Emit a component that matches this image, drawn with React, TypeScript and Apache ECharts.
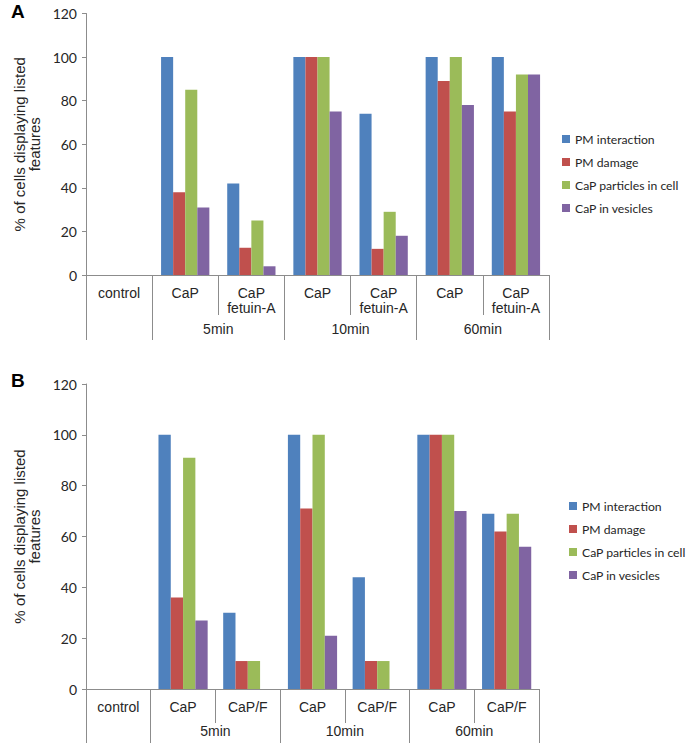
import React, { useEffect, useRef } from "react";
import * as echarts from "echarts";

const seriesNames = ["PM interaction", "PM damage", "CaP particles in cell", "CaP in vesicles"];
const seriesColors = ["#4F81BD", "#C0504D", "#9BBB59", "#8064A2"];

const categoriesA = ["control", "CaP", "CaP\nfetuin-A", "CaP", "CaP\nfetuin-A", "CaP", "CaP\nfetuin-A"];
const categoriesB = ["control", "CaP", "CaP/F", "CaP", "CaP/F", "CaP", "CaP/F"];
const groupLabels = ["5min", "10min", "60min"];
const groupLabelPositions = [2, 4, 6];
const groupBoundaries = [0, 1, 3, 5, 7];
const yTicks = [0, 20, 40, 60, 80, 100, 120];

const A_pmInteraction = [0, 100, 42, 100, 74, 100, 100];
const A_pmDamage = [0, 38, 12.5, 100, 12, 89, 75];
const A_capParticles = [0, 85, 25, 100, 29, 100, 92];
const A_capVesicles = [0, 31, 4, 75, 18, 78, 92];

const B_pmInteraction = [0, 100, 30, 100, 44, 100, 69];
const B_pmDamage = [0, 36, 11, 71, 11, 100, 62];
const B_capParticles = [0, 91, 11, 100, 11, 100, 69];
const B_capVesicles = [0, 27, 0, 21, 0, 70, 56];

const dataA = [A_pmInteraction, A_pmDamage, A_capParticles, A_capVesicles];
const dataB = [B_pmInteraction, B_pmDamage, B_capParticles, B_capVesicles];

const AXIS_COLOR = "#8c8c8c";
const TEXT_COLOR = "#262626";
const SANS = "'Liberation Sans', Arial, sans-serif";
const NUM = "Lato, 'Open Sans', sans-serif";

function subAxis(gridIndex: number, cats: string[], tickLen: number) {
  return {
    type: "category",
    gridIndex,
    position: "bottom",
    data: cats,
    axisLine: { show: true, lineStyle: { color: AXIS_COLOR, width: 1 } },
    axisTick: { show: true, interval: 0, length: tickLen, lineStyle: { color: AXIS_COLOR, width: 1 } },
    axisLabel: {
      interval: 0,
      margin: 10,
      fontFamily: SANS,
      fontSize: 14,
      lineHeight: 15,
      color: TEXT_COLOR,
    },
    splitLine: { show: false },
  };
}

function groupAxis(gridIndex: number, tickLen: number, labelMargin: number) {
  return {
    type: "value",
    gridIndex,
    position: "bottom",
    min: 0,
    max: 7,
    interval: 1,
    axisLine: { show: false },
    axisTick: {
      show: true,
      customValues: groupBoundaries,
      length: tickLen,
      lineStyle: { color: AXIS_COLOR, width: 1 },
    },
    axisLabel: {
      customValues: groupLabelPositions,
      margin: labelMargin,
      fontFamily: SANS,
      fontSize: 14,
      color: TEXT_COLOR,
      formatter: (v: number) => {
        const i = groupLabelPositions.indexOf(v);
        return i >= 0 ? groupLabels[i] : "";
      },
    },
    splitLine: { show: false },
  };
}

function yAxis(gridIndex: number) {
  return {
    type: "value",
    gridIndex,
    min: yTicks[0],
    max: yTicks[yTicks.length - 1],
    interval: 20,
    name: "% of cells displaying listed\nfeatures",
    nameLocation: "middle",
    nameGap: 41,
    nameTextStyle: { fontFamily: SANS, fontSize: 15, lineHeight: 15, color: TEXT_COLOR },
    axisLine: { show: true, lineStyle: { color: AXIS_COLOR, width: 1 } },
    axisTick: { show: true, length: 4, lineStyle: { color: AXIS_COLOR, width: 1 } },
    axisLabel: { margin: 9, fontFamily: NUM, fontSize: 14, color: TEXT_COLOR },
    splitLine: { show: false },
  };
}

function legend(left: number, top: number) {
  return {
    orient: "vertical",
    left,
    top,
    padding: 0,
    itemWidth: 8,
    itemHeight: 8,
    itemGap: 11,
    icon: "rect",
    data: seriesNames,
    textStyle: { fontFamily: NUM, fontSize: 12.2, color: TEXT_COLOR },
  };
}

export default function App() {
  const ref = useRef<HTMLDivElement>(null);
  useEffect(() => {
    if (!ref.current) return;
    const chart = echarts.init(ref.current, null, { renderer: "svg" });
    const series: any[] = [];
    dataA.forEach((d, i) =>
      series.push({
        type: "bar",
        name: seriesNames[i],
        xAxisIndex: 0,
        yAxisIndex: 0,
        data: d,
        barGap: "0%",
        barCategoryGap: "27%",
        itemStyle: { color: seriesColors[i] },
      })
    );
    dataB.forEach((d, i) =>
      series.push({
        type: "bar",
        name: seriesNames[i],
        xAxisIndex: 2,
        yAxisIndex: 1,
        data: d,
        barGap: "0%",
        barCategoryGap: "24%",
        itemStyle: { color: seriesColors[i] },
      })
    );
    chart.setOption({
      animation: false,
      backgroundColor: "#ffffff",
      color: seriesColors,
      title: [
        { text: "A", left: 11, top: 2, padding: 0, textStyle: { fontFamily: SANS, fontSize: 19, fontWeight: "bold", color: "#000" } },
        { text: "B", left: 11, top: 371, padding: 0, textStyle: { fontFamily: SANS, fontSize: 19, fontWeight: "bold", color: "#000" } },
      ],
      grid: [
        { left: 86, right: 140, top: 13.5, bottom: 468, outerBoundsMode: "none", containLabel: false },
        { left: 86, right: 150, top: 384, bottom: 54, outerBoundsMode: "none", containLabel: false },
      ],
      legend: [legend(562, 133), legend(569, 500)],
      xAxis: [subAxis(0, categoriesA, 40), groupAxis(0, 65, 47), subAxis(1, categoriesB, 34), groupAxis(1, 54, 35)],
      yAxis: [yAxis(0), yAxis(1)],
      series,
    });
    return () => chart.dispose();
  }, []);
  return <div ref={ref} style={{ position: "fixed", left: 0, top: 0, width: 689, height: 743 }} />;
}
